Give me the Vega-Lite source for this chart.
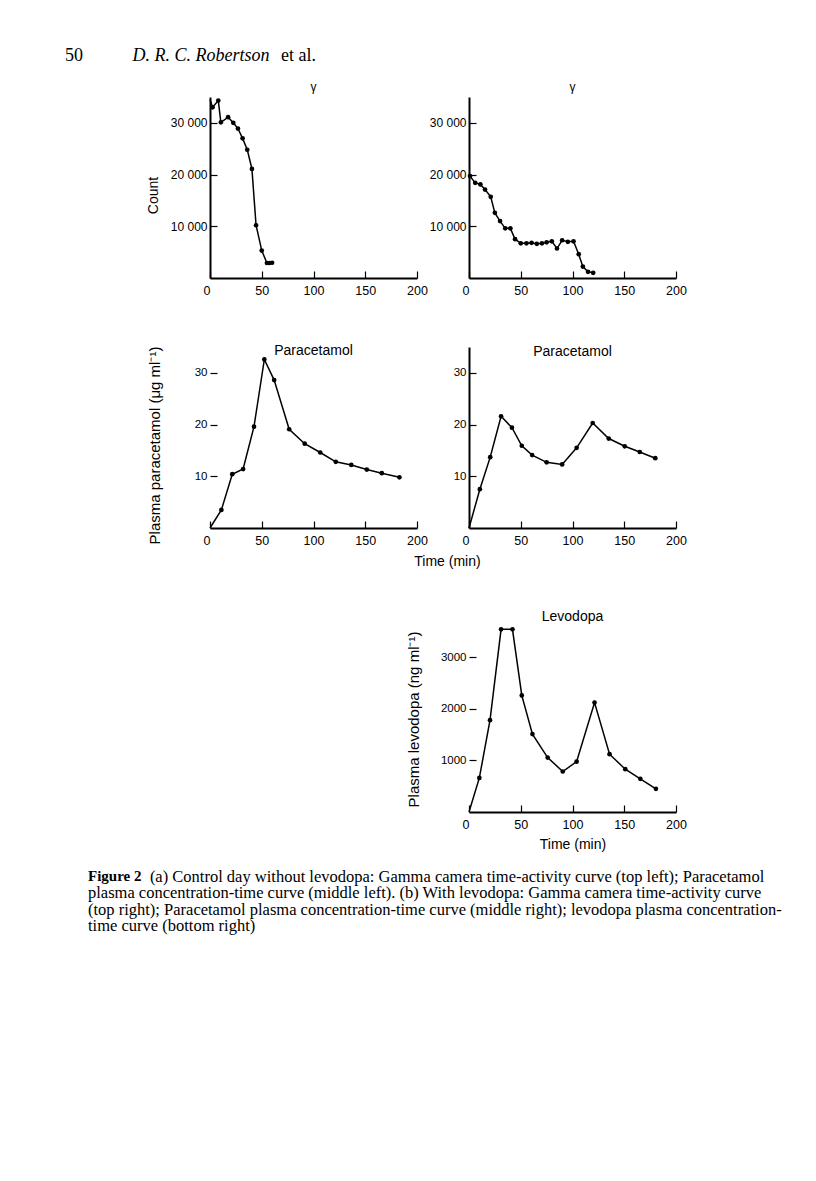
{
  "$schema": "https://vega.github.io/schema/vega-lite/v6.json",
  "padding": {"left": 65, "top": 46, "right": 5, "bottom": 5},
  "background": "white",
  "datasets": {
    "tl": [
      {"t": 0, "count": 34500}, {"t": 2.5, "count": 33000}, {"t": 8, "count": 34300}, {"t": 10.5, "count": 30100},
      {"t": 17.5, "count": 31100}, {"t": 22.5, "count": 30000}, {"t": 27, "count": 28900}, {"t": 31.5, "count": 27000},
      {"t": 36, "count": 24800}, {"t": 40.5, "count": 21100}, {"t": 44.5, "count": 10200}, {"t": 50, "count": 5300},
      {"t": 55, "count": 2900}, {"t": 57.5, "count": 2900}, {"t": 60, "count": 2950}
    ],
    "tr": [
      {"t": 1, "count": 19700}, {"t": 6, "count": 18400}, {"t": 11, "count": 18100}, {"t": 15.5, "count": 17100},
      {"t": 21, "count": 15700}, {"t": 25, "count": 12600}, {"t": 30, "count": 11000}, {"t": 35, "count": 9600},
      {"t": 40, "count": 9600}, {"t": 44.5, "count": 7500}, {"t": 50, "count": 6700}, {"t": 55.5, "count": 6700},
      {"t": 60.5, "count": 6800}, {"t": 65.5, "count": 6600}, {"t": 70.5, "count": 6700}, {"t": 75, "count": 6900},
      {"t": 80, "count": 7100}, {"t": 85, "count": 5700}, {"t": 90, "count": 7300}, {"t": 95.5, "count": 7000},
      {"t": 101, "count": 7100}, {"t": 106, "count": 4600}, {"t": 110, "count": 2200}, {"t": 115, "count": 1200},
      {"t": 120, "count": 1000}
    ],
    "ml": [
      {"t": 0, "conc": 0}, {"t": 11, "conc": 3.5}, {"t": 21.5, "conc": 10.4}, {"t": 32, "conc": 11.4},
      {"t": 42.5, "conc": 19.6}, {"t": 52.5, "conc": 32.6}, {"t": 62, "conc": 28.6}, {"t": 76.5, "conc": 19.1},
      {"t": 91.5, "conc": 16.3}, {"t": 106.5, "conc": 14.6}, {"t": 121.5, "conc": 12.8}, {"t": 136.5, "conc": 12.2},
      {"t": 151.5, "conc": 11.3}, {"t": 166, "conc": 10.6}, {"t": 183, "conc": 9.8}
    ],
    "mr": [
      {"t": 0, "conc": 0}, {"t": 10.5, "conc": 7.5}, {"t": 20.5, "conc": 13.7}, {"t": 31, "conc": 21.6},
      {"t": 41.5, "conc": 19.4}, {"t": 51, "conc": 15.9}, {"t": 61, "conc": 14.1}, {"t": 75, "conc": 12.7},
      {"t": 90, "conc": 12.3}, {"t": 104, "conc": 15.5}, {"t": 119.5, "conc": 20.3}, {"t": 135, "conc": 17.3},
      {"t": 150.5, "conc": 15.8}, {"t": 165, "conc": 14.7}, {"t": 180, "conc": 13.5}
    ],
    "ld": [
      {"t": 0, "conc": 0}, {"t": 10, "conc": 660}, {"t": 20.3, "conc": 1780}, {"t": 31, "conc": 3540},
      {"t": 42, "conc": 3540}, {"t": 51, "conc": 2260}, {"t": 61.3, "conc": 1510}, {"t": 76, "conc": 1055},
      {"t": 90.6, "conc": 785}, {"t": 104, "conc": 977}, {"t": 121.3, "conc": 2120}, {"t": 135.8, "conc": 1120},
      {"t": 151, "conc": 830}, {"t": 165.5, "conc": 643}, {"t": 180.6, "conc": 450}
    ]
  },
  "config": {
    "view": {"stroke": null},
    "font": "Liberation Sans",
    "axis": {
      "grid": false,
      "domainColor": "black", "domainWidth": 2,
      "tickColor": "black", "tickWidth": 1.2, "tickSize": -7,
      "labelColor": "black", "labelFont": "Liberation Sans", "labelFontSize": 12, "labelPadding": 10,
      "titleColor": "black", "titleFont": "Liberation Sans", "titleFontSize": 14, "titleFontWeight": "normal"
    },
    "title": {"color": "black", "font": "Liberation Sans", "fontWeight": "normal"},
    "line": {"color": "black", "strokeWidth": 1.5},
    "point": {"color": "black", "filled": true, "opacity": 1, "size": 22}
  },
  "title": {
    "text": "Figure 2",
    "subtitle": [
      "\u200b\u00a0\u00a0\u00a0\u00a0\u00a0\u00a0\u00a0\u00a0\u00a0\u00a0\u00a0\u00a0\u00a0\u00a0\u00a0(a) Control day without levodopa: Gamma camera time-activity curve (top left); Paracetamol",
      "plasma concentration-time curve (middle left). (b) With levodopa: Gamma camera time-activity curve",
      "(top right); Paracetamol plasma concentration-time curve (middle right); levodopa plasma concentration-",
      "time curve (bottom right)"
    ],
    "orient": "bottom", "anchor": "start", "frame": "group", "dx": -122, "offset": 18,
    "font": "Liberation Serif", "fontSize": 15, "fontWeight": "bold", "color": "black",
    "subtitleFont": "Liberation Serif", "subtitleFontSize": 16.5, "subtitleFontWeight": "normal", "subtitleColor": "black",
    "subtitleLineHeight": 16.4, "subtitlePadding": -15
  },
  "vconcat": [
    {
      "title": {
        "text": "50\u00a0\u00a0\u00a0\u00a0\u00a0\u00a0\u00a0\u00a0\u00a0\u00a0\u00a0\u00a0\u00a0\u00a0\u00a0\u00a0\u00a0\u00a0\u00a0\u00a0\u00a0\u00a0\u00a0\u00a0\u00a0\u00a0\u00a0\u00a0\u00a0\u00a0\u00a0\u00a0\u00a0\u00a0\u00a0\u00a0\u00a0\u00a0\u00a0\u00a0\u00a0\u00a0\u00a0\u00a0et al.",
        "subtitle": "\u200b\u00a0\u00a0\u00a0\u00a0\u00a0\u00a0\u00a0\u00a0\u00a0\u00a0\u00a0\u00a0\u00a0\u00a0\u00a0D. R. C. Robertson",
        "anchor": "start", "frame": "group", "dx": -145, "offset": 16,
        "font": "Liberation Serif", "fontSize": 18, "fontWeight": "normal", "color": "black",
        "subtitleFont": "Liberation Serif", "subtitleFontSize": 18, "subtitleFontStyle": "italic", "subtitleColor": "black",
        "subtitlePadding": -18
      },
      "columns": 2,
      "align": "each",
      "bounds": "flush",
      "spacing": {"row": 69, "column": 52},
      "concat": [
        {
          "width": 207, "height": 181,
          "title": {"text": "γ", "fontSize": 12, "offset": 3},
          "data": {"name": "tl"},
          "encoding": {
            "x": {"field": "t", "type": "quantitative", "scale": {"domain": [0, 200], "nice": false},
                  "axis": {"values": [0, 50, 100, 150, 200], "title": null, "labelFontSize": 12.5, "labelPadding": 13,
                           "labelExpr": "datum.value === 0 ? '0\u00a0\u00a0' : datum.label",
                           "labelAlign": {"condition": {"test": "datum.value === 0", "value": "right"}, "value": "center"}}},
            "y": {"field": "count", "type": "quantitative", "scale": {"domain": [0, 35000], "nice": false},
                  "axis": {"values": [10000, 20000, 30000], "labelExpr": "format(datum.value / 1000, 'd') + ' 000'",
                           "title": "Count", "titleX": -50, "titleY": 98}}
          },
          "layer": [
            {"mark": {"type": "line"}},
            {"mark": {"type": "point"}, "transform": [{"filter": "datum.t > 0"}]}
          ]
        },
        {
          "width": 207, "height": 181,
          "title": {"text": "γ", "fontSize": 12, "offset": 3},
          "data": {"name": "tr"},
          "encoding": {
            "x": {"field": "t", "type": "quantitative", "scale": {"domain": [0, 200], "nice": false},
                  "axis": {"values": [0, 50, 100, 150, 200], "title": null, "labelFontSize": 12.5, "labelPadding": 13,
                           "labelExpr": "datum.value === 0 ? '0\u00a0\u00a0' : datum.label",
                           "labelAlign": {"condition": {"test": "datum.value === 0", "value": "right"}, "value": "center"}}},
            "y": {"field": "count", "type": "quantitative", "scale": {"domain": [0, 35000], "nice": false},
                  "axis": {"values": [10000, 20000, 30000], "labelExpr": "format(datum.value / 1000, 'd') + ' 000'",
                           "title": null}}
          },
          "layer": [
            {"mark": {"type": "line"}},
            {"mark": {"type": "point"}}
          ]
        },
        {
          "width": 207, "height": 181,
          "title": {"text": "Paracetamol", "fontSize": 14, "offset": -12},
          "data": {"name": "ml"},
          "encoding": {
            "x": {"field": "t", "type": "quantitative", "scale": {"domain": [0, 200], "nice": false},
                  "axis": {"values": [0, 50, 100, 150, 200], "labelFontSize": 12.5, "labelPadding": 13,
                           "labelExpr": "datum.value === 0 ? '0\u00a0\u00a0' : datum.label",
                           "labelAlign": {"condition": {"test": "datum.value === 0", "value": "right"}, "value": "center"},
                           "title": "Time (min)", "titleX": 237, "titleY": 26}},
            "y": {"field": "conc", "type": "quantitative", "scale": {"domain": [0, 35], "nice": false},
                  "axis": {"values": [10, 20, 30], "domain": false, "labelFontSize": 11.5,
                           "title": "Plasma paracetamol (μg ml⁻¹)", "titleFontSize": 15, "titleX": -48, "titleY": 98}}
          },
          "layer": [
            {"data": {"values": [{}]}, "mark": {"type": "rule", "color": "black", "strokeWidth": 2},
             "encoding": {"x": {"datum": 0}, "y": {"datum": 0}, "y2": {"datum": 30}}},
            {"mark": {"type": "line"}},
            {"mark": {"type": "point"}, "transform": [{"filter": "datum.t > 0"}]}
          ]
        },
        {
          "width": 207, "height": 181,
          "title": {"text": "Paracetamol", "fontSize": 14, "offset": -12},
          "data": {"name": "mr"},
          "encoding": {
            "x": {"field": "t", "type": "quantitative", "scale": {"domain": [0, 200], "nice": false},
                  "axis": {"values": [0, 50, 100, 150, 200], "title": null, "labelFontSize": 12.5, "labelPadding": 13,
                           "labelExpr": "datum.value === 0 ? '0\u00a0\u00a0' : datum.label",
                           "labelAlign": {"condition": {"test": "datum.value === 0", "value": "right"}, "value": "center"}}},
            "y": {"field": "conc", "type": "quantitative", "scale": {"domain": [0, 35], "nice": false},
                  "axis": {"values": [10, 20, 30], "labelFontSize": 11.5, "title": null}}
          },
          "layer": [
            {"mark": {"type": "line"}},
            {"mark": {"type": "point"}, "transform": [{"filter": "datum.t > 0"}]}
          ]
        },
        {
          "width": 10, "height": 10,
          "data": {"values": []},
          "mark": {"type": "point", "opacity": 0}
        },
        {
          "width": 207, "height": 215,
          "title": {"text": "Levodopa", "fontSize": 14, "offset": -27},
          "data": {"name": "ld"},
          "encoding": {
            "x": {"field": "t", "type": "quantitative", "scale": {"domain": [0, 200], "nice": false},
                  "axis": {"values": [0, 50, 100, 150, 200], "labelFontSize": 12.5, "labelPadding": 13,
                           "labelExpr": "datum.value === 0 ? '0\u00a0\u00a0' : datum.label",
                           "labelAlign": {"condition": {"test": "datum.value === 0", "value": "right"}, "value": "center"},
                           "title": "Time (min)", "titleY": 25}},
            "y": {"field": "conc", "type": "quantitative", "scale": {"domain": [0, 4167], "nice": false},
                  "axis": {"values": [1000, 2000, 3000], "format": "d", "domain": false, "labelFontSize": 11.5,
                           "title": "Plasma levodopa (ng ml⁻¹)", "titleFontSize": 15, "titleX": -48, "titleY": 122}}
          },
          "layer": [
            {"data": {"values": [{}]}, "mark": {"type": "rule", "color": "black", "strokeWidth": 2},
             "encoding": {"x": {"datum": 0}, "y": {"datum": 0}, "y2": {"datum": 3500}}},
            {"mark": {"type": "line"}},
            {"mark": {"type": "point"}, "transform": [{"filter": "datum.t > 0"}]}
          ]
        }
      ]
    }
  ]
}
